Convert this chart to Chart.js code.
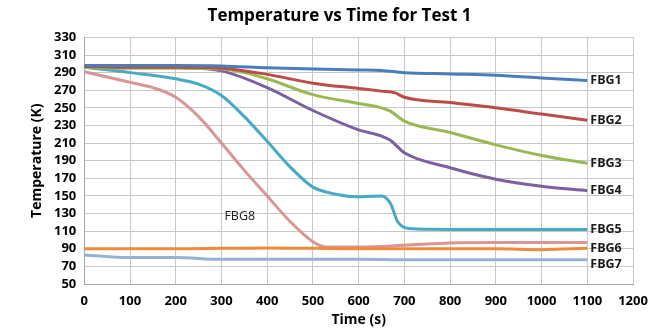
<!DOCTYPE html>
<html>
<head>
<meta charset="utf-8">
<script src="https://cdn.jsdelivr.net/npm/chart.js@4/dist/chart.umd.min.js"></script>
<style>
  html, body { margin: 0; padding: 0; background: #fff; }
  #wrap { width: 651px; height: 332px; }
</style>
</head>
<body>
<div id="wrap"><canvas id="myChart"></canvas></div>
<script>
// time (s) of each reading, per sensor
var tFbg1 = [0, 100, 200, 300, 400, 500, 600, 650, 700, 800, 900, 1000, 1100];
var fbg1 = [298, 298, 298, 297.5, 295.5, 294, 293, 292.5, 290, 288.5, 287, 284, 281];

var tFbg2 = [0, 100, 200, 300, 400, 500, 600, 650, 680, 700, 800, 900, 1000, 1100];
var fbg2 = [297, 296, 296, 295, 288, 278, 272, 269, 267, 262, 256, 250, 243, 236];

var tFbg3 = [0, 100, 200, 300, 350, 400, 500, 600, 650, 670, 700, 800, 900, 1000, 1100];
var fbg3 = [296, 295, 295, 294, 290, 283, 265, 255, 250, 246, 235, 222, 208, 196, 187];

var tFbg4 = [0, 100, 200, 300, 400, 500, 600, 650, 670, 700, 800, 900, 1000, 1100];
var fbg4 = [298, 297, 296, 292, 273, 247, 225, 218, 213, 199, 182, 169, 161, 156];

var tFbg5 = [0, 100, 200, 250, 300, 350, 400, 450, 500, 550, 600, 650, 670, 685, 710, 800, 900, 1000, 1100];
var fbg5 = [296, 290, 283, 277, 264, 240, 212, 183, 160, 152, 149, 150, 141, 121, 113, 112, 112, 112, 112];

var tFbg6 = [0, 100, 200, 300, 400, 500, 600, 700, 800, 900, 1000, 1100];
var fbg6 = [90, 90, 90, 90.5, 91, 90.5, 90, 90, 90, 90, 89, 90.5];

var tFbg7 = [0, 100, 200, 300, 400, 500, 600, 700, 800, 900, 1000, 1100];
var fbg7 = [83, 80, 80, 78, 78, 78, 78, 77.5, 77.5, 77.5, 77.5, 77.5];

var tFbg8 = [0, 100, 150, 200, 250, 300, 350, 400, 450, 500, 530, 600, 700, 800, 900, 1000, 1100];
var fbg8 = [291, 279, 273, 262, 240, 210, 179, 150, 121, 98, 92, 92, 94, 96.5, 97, 97, 97];

var names = ['FBG1', 'FBG2', 'FBG3', 'FBG4', 'FBG5', 'FBG6', 'FBG7', 'FBG8'];
var colors = ['#4a7ebb', '#be4b48', '#98b954', '#7d60a0', '#46aac5', '#f08a3a', '#95b3d7', '#d99694'];
var times = [tFbg1, tFbg2, tFbg3, tFbg4, tFbg5, tFbg6, tFbg7, tFbg8];
var temps = [fbg1, fbg2, fbg3, fbg4, fbg5, fbg6, fbg7, fbg8];

// where the FBG8 label sits (time, temperature)
var fbg8LabelAt = [340, 127];
// small vertical nudges (px) of the end labels so they don't collide
var labelNudge = [0, 0, 0, 0, 0, 0, 5];

var datasets = names.map(function (n, i) {
    return {
        label: n,
        data: times[i].map(function (t, j) { return { x: t, y: temps[i][j] }; }),
        borderColor: colors[i],
        backgroundColor: colors[i],
        borderWidth: 3,
        pointRadius: 0,
        cubicInterpolationMode: 'monotone',
        fill: false
    };
});

// draw the series names next to the lines
var endLabels = {
    id: 'endLabels',
    afterDatasetsDraw: function (chart) {
        var ctx = chart.ctx;
        var xs = chart.scales.x, ys = chart.scales.y;
        ctx.save();
        ctx.fillStyle = '#1a1a1a';
        ctx.textBaseline = 'middle';
        ctx.textAlign = 'left';
        ctx.font = 'bold 12.5px "Open Sans", sans-serif';
        for (var i = 0; i < 7; i++) {
            var tt = times[i], vv = temps[i];
            ctx.fillText(names[i], xs.getPixelForValue(tt[tt.length - 1]) + 3,
                ys.getPixelForValue(vv[vv.length - 1]) + labelNudge[i]);
        }
        ctx.font = '12.5px "Open Sans", sans-serif';
        ctx.textAlign = 'center';
        ctx.fillText(names[7], xs.getPixelForValue(fbg8LabelAt[0]), ys.getPixelForValue(fbg8LabelAt[1]));
        ctx.restore();
    }
};

var tickFont = { family: '"Open Sans", sans-serif', size: 13, weight: 'bold', lineHeight: 1 };
var titleFont = { family: '"Open Sans", sans-serif', size: 14, weight: 'bold', lineHeight: 1 };

const config = {
    type: 'line',
    data: { datasets: datasets },
    options: {
        responsive: true,
        maintainAspectRatio: false,
        animation: false,
        layout: { padding: { left: 28, right: 0, top: 2, bottom: 5 } },
        plugins: {
            legend: { display: false },
            tooltip: { enabled: false },
            title: {
                display: true,
                text: 'Temperature vs Time for Test 1',
                color: '#000',
                font: { family: '"Open Sans", sans-serif', size: 17, weight: 'bold' },
                padding: { top: 4, bottom: 11 }
            }
        },
        scales: {
            x: {
                type: 'linear',
                min: 0,
                max: 1200,
                afterFit: function (scale) { scale.paddingRight = 18; },
                ticks: {
                    stepSize: 100, color: '#000', font: tickFont, padding: 11, autoSkip: false, maxRotation: 0,
                    callback: function (v) { return String(v); }
                },
                grid: { color: '#c8c8c8', lineWidth: 1, drawTicks: false },
                border: { color: '#a6a6a6' },
                title: { display: true, text: 'Time (s)', color: '#000', font: titleFont, padding: { top: -6, bottom: 0 } }
            },
            y: {
                min: 50,
                max: 330,
                ticks: { stepSize: 20, color: '#000', font: tickFont, padding: 8, autoSkip: false },
                grid: { color: '#c8c8c8', lineWidth: 1, drawTicks: false },
                border: { color: '#a6a6a6' },
                title: { display: true, text: 'Temperature (K)', color: '#000', font: titleFont, padding: 2 }
            }
        }
    },
    plugins: [endLabels]
};

new Chart(document.getElementById('myChart'), config);
</script>
</body>
</html>
